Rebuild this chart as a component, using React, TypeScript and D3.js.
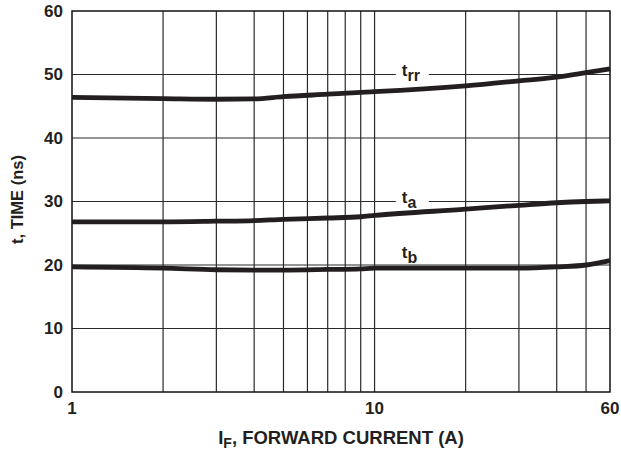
import { useEffect, useRef } from 'react'
import * as d3 from 'd3'

interface Pt { i: number; t: number }

const currents = [1, 2, 3, 4, 5, 7, 9, 10, 20, 30, 40, 50, 60]
const trr = [46.4, 46.2, 46.1, 46.15, 46.5, 46.9, 47.2, 47.3, 48.2, 49.0, 49.6, 50.3, 50.9]
const ta = [26.8, 26.8, 26.9, 27.0, 27.2, 27.4, 27.6, 27.8, 28.8, 29.4, 29.8, 30.0, 30.1]
const tb = [19.7, 19.5, 19.25, 19.2, 19.2, 19.3, 19.4, 19.5, 19.5, 19.5, 19.7, 20.0, 20.7]

const xGrid = [2, 3, 4, 5, 6, 7, 8, 9, 10, 20, 30, 40, 50]
const xTicks = [1, 10, 60]
const yTicks = [0, 10, 20, 30, 40, 50, 60]

const labels = [
  { main: 't', sub: 'rr', i: 12.4, t: 50, gap: true },
  { main: 't', sub: 'a', i: 12.4, t: 30, gap: true },
  { main: 't', sub: 'b', i: 12.4, t: 21.6, gap: false },
]

export default function App() {
  const ref = useRef<SVGSVGElement>(null)

  useEffect(() => {
    if (!ref.current) return
    const el = ref.current
    const width = 621
    const height = 455
    const margin = { top: 11, right: 11, bottom: 63, left: 72 }
    const iW = width - margin.left - margin.right
    const iH = height - margin.top - margin.bottom
    const font = '"Liberation Sans", Arial, sans-serif'

    d3.select(el).selectAll('*').remove()
    const root = d3.select(el).attr('width', width).attr('height', height)
    const svg = root.append('g').attr('transform', `translate(${margin.left},${margin.top})`)

    const x = d3.scaleLog().domain([1, 60]).range([0, iW])
    const y = d3.scaleLinear().domain([0, 60]).range([iH, 0])

    // grid
    svg.append('g').selectAll('line').data(xGrid).join('line')
      .attr('x1', d => x(d)).attr('x2', d => x(d))
      .attr('y1', 0).attr('y2', iH)
      .attr('stroke', '#2a2a2a').attr('stroke-width', 1.2)
    svg.append('g').selectAll('line').data(yTicks.slice(1, -1)).join('line')
      .attr('x1', 0).attr('x2', iW)
      .attr('y1', d => y(d)).attr('y2', d => y(d))
      .attr('stroke', '#2a2a2a').attr('stroke-width', 1.2)

    // frame
    svg.append('rect').attr('width', iW).attr('height', iH)
      .attr('fill', 'none').attr('stroke', '#111').attr('stroke-width', 1.5)

    // curve labels with gap in gridline
    labels.forEach(l => {
      const lx = x(l.i)
      const ly = y(l.t)
      if (l.gap) {
        svg.append('rect').attr('x', lx - 7).attr('y', ly - 3).attr('width', 33).attr('height', 6).attr('fill', '#fff')
      }
      const txt = svg.append('text')
        .attr('x', lx - 1).attr('y', l.gap ? ly + 1 : ly + 3)
        .attr('font-family', font).attr('font-weight', 'bold').attr('font-size', 17).attr('fill', '#231f20')
      txt.append('tspan').text(l.main)
      txt.append('tspan').attr('dy', 5).attr('font-size', 16).text(l.sub)
    })

    const line = d3.line<Pt>()
      .x(d => x(d.i))
      .y(d => y(d.t))
      .curve(d3.curveMonotoneX)

    ;[trr, ta, tb].forEach(series => {
      const pts = currents.map((c, k) => ({ i: c, t: series[k] }))
      svg.append('path').datum(pts)
        .attr('fill', 'none').attr('stroke', '#231f20').attr('stroke-width', 4.8)
        .attr('d', line)
    })

    // y tick labels
    svg.append('g').selectAll('text').data(yTicks).join('text')
      .attr('x', -9).attr('y', d => y(d)).attr('dy', '0.35em')
      .attr('text-anchor', 'end')
      .attr('font-family', font).attr('font-weight', 'bold').attr('font-size', 17).attr('fill', '#231f20')
      .text(d => d)

    // x tick labels
    svg.append('g').selectAll('text').data(xTicks).join('text')
      .attr('x', d => x(d)).attr('y', iH + 22)
      .attr('text-anchor', 'middle')
      .attr('font-family', font).attr('font-weight', 'bold').attr('font-size', 17).attr('fill', '#231f20')
      .text(d => d)

    // x title
    const xt = svg.append('text')
      .attr('x', iW / 2).attr('y', iH + 52)
      .attr('text-anchor', 'middle')
      .attr('font-family', font).attr('font-weight', 'bold').attr('font-size', 18.5).attr('fill', '#231f20')
    xt.append('tspan').text('I')
    xt.append('tspan').attr('dy', 4).attr('font-size', 14).text('F')
    xt.append('tspan').attr('dy', -4).text(', FORWARD CURRENT (A)')

    // y title
    root.append('text')
      .attr('transform', `translate(23,${margin.top + y(30) - 2}) rotate(-90)`)
      .attr('text-anchor', 'middle')
      .attr('font-family', font).attr('font-weight', 'bold').attr('font-size', 16.5).attr('fill', '#231f20')
      .text('t, TIME (ns)')
  }, [])

  return <svg ref={ref} style={{ display: 'block', position: 'absolute', left: 0, top: 0 }} />
}
